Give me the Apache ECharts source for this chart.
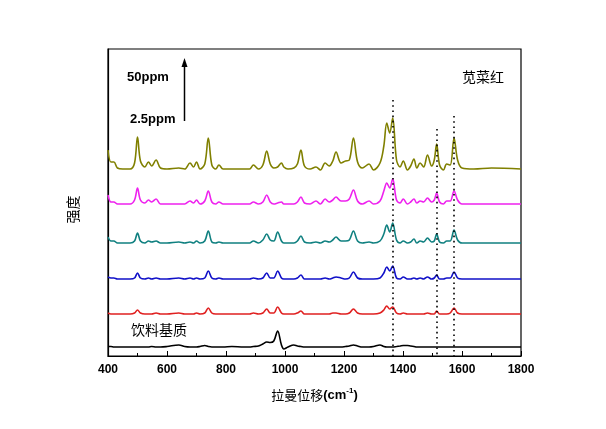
<!DOCTYPE html>
<html>
<head>
<meta charset="utf-8">
<script src="https://cdn.jsdelivr.net/npm/echarts@6/dist/echarts.min.js"></script>
<style>html,body{margin:0;padding:0;background:#fff}#c{width:606px;height:429px}</style>
</head>
<body>
<div id="c"></div>
<script>
// Raman shift grid (cm^-1)
var xs = [400,410,420,432,450,475,490,500,510,525,537,548,563,578,600,640,660,678,690,700,712,728,740,752,765,776,790,820,860,880,893,910,925,938,950,962,975,988,996,1010,1030,1042,1054,1066,1085,1105,1120,1136,1150,1162,1173,1190,1205,1218,1232,1246,1262,1285,1300,1322,1335,1345,1355,1365,1378,1390,1401,1415,1426,1437,1447,1458,1470,1483,1497,1506,1514,1524,1537,1548,1560,1573,1585,1600,1640,1700,1800];

// intensities (arbitrary, stacked offsets)
var ppm50 = [206,194,194,188,187,187,193,219,195,189, 194,190,196,188,187,188,187,193,189,194, 187,192,218,191,187,191,187,187,187,187, 191,187,191,205,192,188,189,193,189,187, 188,192,206,190,187,189,186,193,190,195, 204,193,195,196,218,194,188,192,186,193, 210,233,223,238,196,189,195,186,190,197, 188,193,189,201,190,196,212,191,186,192, 191,218,196,188,187,188,187];
var ppmB = [161,154,154,152,152,152,156,168,156,153, 156,154,157,152,152,152,152,155,153,156, 152,155,165,154,152,154,152,152,152,152, 154,152,154,161,154,152,153,154,152,152, 152,154,159,153,152,155,152,157,154,156, 159,155,155,157,166,155,152,155,152,155, 165,173,168,177,156,153,157,152,154,157, 153,155,154,158,154,156,163,154,152,155, 155,165,156,152,152,152,152];
var ppmC = [119,115,115,113,113,113,115,123,115,113, 115,114,115,113,113,114,113,114,113,115, 113,115,125,114,113,114,113,113,113,113, 115,113,116,122,116,115,124,115,113,113, 113,115,120,114,113,114,113,115,114,116, 119,115,115,116,125,115,113,114,113,115, 122,131,124,133,116,113,115,113,114,117, 113,115,114,118,114,115,122,114,113,115, 115,126,116,113,113,113,113];
var ppmD = [79,78,78,77,77,77,78,83,78,77, 78,77,78,77,77,78,77,78,77,78, 77,78,85,78,77,78,77,77,77,77, 78,77,78,83,78,78,85,78,77,77, 77,78,81,77,77,77,77,78,77,78, 79,78,77,78,84,78,77,77,77,78, 83,89,85,90,78,77,79,77,77,78, 77,78,77,79,77,78,81,77,77,78, 78,84,78,77,77,77,77];
var ppm25 = [43,42,42,42,42,42,43,46,43,42, 42,42,43,42,42,43,42,42,42,43, 42,43,48,43,42,42,42,42,42,42, 43,42,43,47,43,43,49,43,42,42, 42,43,45,42,42,42,42,42,42,43, 43,42,42,43,47,43,42,42,42,43, 46,50,47,49,43,42,43,42,42,42, 42,42,42,43,42,42,45,42,42,42, 43,48,43,42,42,42,42];
var matrix = [9.5,9.5,9,9,9,9,9,9,9,9, 9,9.5,9,9,9.5,11,9.5,9,9,9, 9.5,10.5,9.5,9,9,9,9,9.5,9,9, 9.5,10,12,14,13.5,15,25,11,7,9, 11,10,9.5,9,9,9,9,9,9,9, 9,9,9.5,10,11,10,9,9,9.5,11, 9.5,9,9,9,9.5,10,10.5,10.5,10,9.5, 9,9,9,9,9,9,9,9,9,9, 9,9,9,9,9,9,9];

var xTicks = [400,600,800,1000,1200,1400,1600,1800];
var dotX = [1365,1514,1573];
var dotTop = [256,227,240];

function pairs(ys){ return xs.map(function(x,i){ return [x, ys[i]]; }); }

var seriesDefs = [
  {name:'50ppm', data:ppm50, color:'#808000'},
  {name:'b', data:ppmB, color:'#ee22ee'},
  {name:'c', data:ppmC, color:'#108080'},
  {name:'d', data:ppmD, color:'#1010c8'},
  {name:'2.5ppm', data:ppm25, color:'#e02020'},
  {name:'饮料基质', data:matrix, color:'#000000'}
];

var series = seriesDefs.map(function(s){
  return {
    type:'line', name:s.name, data:pairs(s.data), showSymbol:false, symbol:'none',
    smooth:0.35, lineStyle:{color:s.color, width:1.6}, silent:true, animation:false
  };
});

series[5].markLine = {
  silent:true, symbol:'none', animation:false, label:{show:false},
  lineStyle:{color:'#000', type:[1.6,3.6], width:1.6},
  data: dotX.map(function(x,i){ return [{coord:[x, dotTop[i]]},{coord:[x, 0]}]; })
};

var chart = echarts.init(document.getElementById('c'));
chart.setOption({
  animation:false,
  backgroundColor:'#fff',
  grid:{left:108, right:85, top:49, bottom:73, show:true, borderColor:'#000', borderWidth:1.2, backgroundColor:'transparent'},
  xAxis:{
    type:'value', min:400, max:1800, interval:200,
    axisLine:{show:true, onZero:false, lineStyle:{color:'#000', width:1.2}},
    axisTick:{show:true, inside:true, length:5, lineStyle:{color:'#000'}},
    minorTick:{show:true, splitNumber:2, length:3, lineStyle:{color:'#000'}},
    splitLine:{show:false},
    axisLabel:{color:'#000', fontFamily:'Liberation Sans', fontWeight:'bold', fontSize:12, margin:8,
      formatter:function(v){ return xTicks.indexOf(v) >= 0 ? String(v) : ''; }},
    name:'{cn|拉曼位移}{b|(cm}{sup|-1}{b|)}', nameLocation:'middle', nameGap:31,
    nameTextStyle:{rich:{
      cn:{fontFamily:'Noto Sans CJK SC', fontSize:13, color:'#000'},
      b:{fontFamily:'Liberation Sans', fontWeight:'bold', fontSize:13, color:'#000'},
      sup:{fontFamily:'Liberation Sans', fontWeight:'bold', fontSize:8, color:'#000', verticalAlign:'top', padding:[0,0,8,0]}
    }}
  },
  yAxis:{
    type:'value', min:0, max:307,
    axisLine:{show:true, lineStyle:{color:'#000', width:1.2}},
    axisTick:{show:false}, axisLabel:{show:false}, splitLine:{show:false},
    name:'强度', nameLocation:'middle', nameGap:28, nameRotate:90,
    nameTextStyle:{fontFamily:'Noto Sans CJK SC', fontSize:14, color:'#000', padding:[0,0,0,-14]}
  },
  graphic:[
    {type:'text', left:127, top:71, style:{text:'50ppm', font:'bold 13px "Liberation Sans"', fill:'#000'}},
    {type:'text', left:130, top:113, style:{text:'2.5ppm', font:'bold 13px "Liberation Sans"', fill:'#000'}},
    {type:'line', shape:{x1:184.5, y1:121, x2:184.5, y2:66}, style:{stroke:'#000', lineWidth:1.5}},
    {type:'polygon', shape:{points:[[184.5,58],[181.5,67],[187.5,67]]}, style:{fill:'#000'}},
    {type:'text', left:462, top:70, style:{text:'苋菜红', font:'14px "Noto Sans CJK SC"', fill:'#000'}},
    {type:'text', left:131, top:323, style:{text:'饮料基质', font:'14px "Noto Sans CJK SC"', fill:'#000'}}
  ],
  series:series
});
</script>
</body>
</html>
